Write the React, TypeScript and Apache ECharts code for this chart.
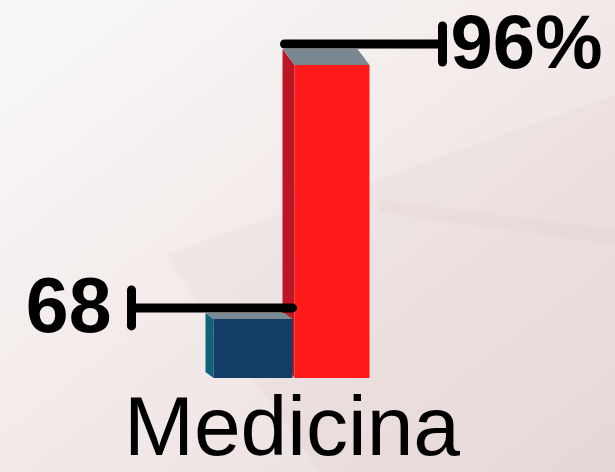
import React, { useEffect, useRef } from "react";
import * as echarts from "echarts";

const categories = ["Medicina"];
const countValues = [68];
const percentValues = [96];
const countLabels = ["68"];
const percentLabels = ["96%"];

type BarStyle = {
  offset: number;
  width: number;
  dx: number;
  dy: number;
  front: string;
  side: string;
  top: string;
  labelSide: "left" | "right";
  fontSize: number;
  lineLen: number;
  labels: string[];
};

function makeRender(s: BarStyle) {
  return (params: any, api: any) => {
    const cat = api.value(0);
    const v = api.value(1);
    const [cx, yTop] = api.coord([cat, v]);
    const [, yBase] = api.coord([cat, 0]);
    const x0 = cx + s.offset - s.width / 2;
    const x1 = x0 + s.width;
    const ly = yTop - s.dy - 5;
    let lxStart: number, lxEnd: number;
    if (s.labelSide === "left") {
      lxStart = x1;
      lxEnd = x1 - s.lineLen;
    } else {
      lxStart = x0 - s.dx + 2;
      lxEnd = lxStart + s.lineLen;
    }
    const lineStyle = { stroke: "#000", lineWidth: 9, lineCap: "round" };
    const text = s.labels[params.dataIndex];
    return {
      type: "group",
      children: [
        {
          type: "polygon",
          shape: { points: [[x0, yTop], [x0 - s.dx, yTop - s.dy], [x0 - s.dx, yBase - s.dy], [x0, yBase]] },
          style: { fill: s.side },
        },
        {
          type: "polygon",
          shape: { points: [[x0, yTop], [x1, yTop], [x1 - s.dx, yTop - s.dy], [x0 - s.dx, yTop - s.dy]] },
          style: { fill: s.top },
        },
        {
          type: "rect",
          shape: { x: x0, y: yTop, width: s.width, height: yBase - yTop },
          style: { fill: s.front },
        },
        {
          type: "line",
          shape: { x1: lxStart, y1: ly, x2: lxEnd, y2: ly },
          style: lineStyle,
        },
        {
          type: "line",
          shape: { x1: lxEnd, y1: ly - 18, x2: lxEnd, y2: ly + 18 },
          style: lineStyle,
        },
        {
          type: "text",
          x: s.labelSide === "left" ? lxEnd - 20 : lxEnd + 8,
          y: ly - 3,
          style: {
            text,
            fill: "#000",
            font: `bold ${s.fontSize}px "Liberation Sans", Arial, sans-serif`,
            textAlign: s.labelSide === "left" ? "right" : "left",
            textVerticalAlign: "middle",
          },
        },
      ],
    };
  };
}

export default function App() {
  const ref = useRef<HTMLDivElement>(null);
  useEffect(() => {
    if (!ref.current) return;
    const chart = echarts.init(ref.current, null, { renderer: "svg" });
    const redStyle: BarStyle = {
      offset: 40,
      width: 75,
      dx: 12,
      dy: 16,
      front: "#ff1a1a",
      side: "#bb1526",
      top: "#7a8790",
      labelSide: "right",
      fontSize: 76,
      lineLen: 158,
      labels: percentLabels,
    };
    const blueStyle: BarStyle = {
      offset: -39,
      width: 79,
      dx: 8,
      dy: 6,
      front: "#133d66",
      side: "#0e6378",
      top: "#7a8a94",
      labelSide: "left",
      fontSize: 77,
      lineLen: 161,
      labels: countLabels,
    };
    chart.setOption({
      animation: false,
      backgroundColor: {
        type: "linear",
        x: 0,
        y: 0,
        x2: 1,
        y2: 1,
        colorStops: [
          { offset: 0, color: "#f9f8f8" },
          { offset: 0.5, color: "#f2eae9" },
          { offset: 1, color: "#e8dcdb" },
        ],
      },
      graphic: [
        {
          type: "polygon",
          z: 0,
          silent: true,
          shape: { points: [[165, 255], [615, 95], [615, 472], [320, 472]] },
          style: { fill: "rgba(205,180,175,0.1)" },
        },
        {
          type: "polygon",
          z: 0,
          silent: true,
          shape: { points: [[380, 200], [615, 230], [615, 245], [380, 212]] },
          style: { fill: "rgba(215,190,180,0.12)" },
        },
      ],
      grid: { left: 142, right: 173, top: 52, bottom: 94 },
      xAxis: {
        type: "category",
        data: categories,
        axisLine: { show: false },
        axisTick: { show: false },
        axisLabel: {
          fontSize: 84,
          lineHeight: 70,
          fontFamily: "Liberation Sans",
          color: "#000",
          margin: 13,
        },
      },
      yAxis: [
        { type: "value", min: 0, max: 100, show: false },
        { type: "value", min: 0, max: 375, show: false },
      ],
      series: [
        {
          type: "custom",
          yAxisIndex: 0,
          z: 2,
          renderItem: makeRender(redStyle),
          encode: { x: 0, y: 1 },
          data: percentValues.map((v, i) => [i, v]),
        },
        {
          type: "custom",
          yAxisIndex: 1,
          z: 3,
          renderItem: makeRender(blueStyle),
          encode: { x: 0, y: 1 },
          data: countValues.map((v, i) => [i, v]),
        },
      ],
    });
    return () => chart.dispose();
  }, []);
  return (
    <div
      ref={ref}
      style={{ position: "fixed", left: 0, top: 0, width: 615, height: 472 }}
    />
  );
}
